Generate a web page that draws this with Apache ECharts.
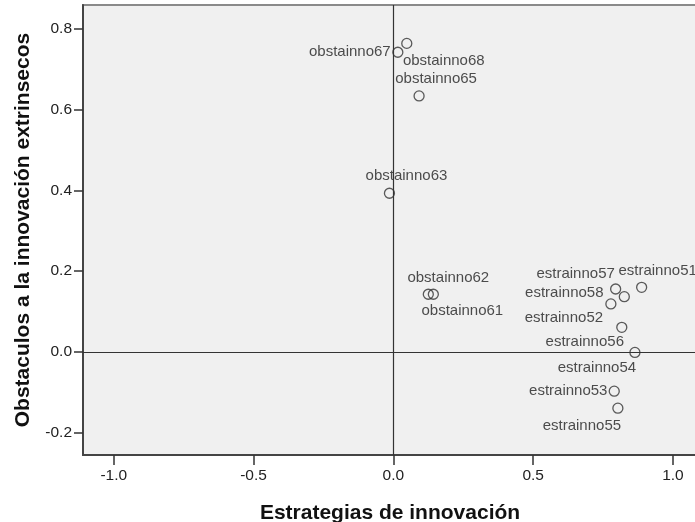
<!DOCTYPE html>
<html>
<head>
<meta charset="utf-8">
<script src="https://cdn.jsdelivr.net/npm/echarts@6/dist/echarts.min.js"></script>
<style>
  html, body { margin: 0; padding: 0; background: #ffffff; }
  #chart { width: 695px; height: 522px; }
</style>
</head>
<body>
<div id="chart"></div>
<script>
// Item names and their coordinates on the two components
const pointNames = [
  'obstainno68', 'obstainno67', 'obstainno65', 'obstainno63',
  'obstainno62', 'obstainno61',
  'estrainno51', 'estrainno57', 'estrainno58', 'estrainno52',
  'estrainno56', 'estrainno54', 'estrainno53', 'estrainno55'
];
const xValues = [
  0.048, 0.016, 0.092, -0.014,
  0.125, 0.143,
  0.888, 0.795, 0.826, 0.778,
  0.817, 0.864, 0.790, 0.803
];
const yValues = [
  0.764, 0.742, 0.634, 0.393,
  0.143, 0.143,
  0.160, 0.156, 0.137, 0.119,
  0.061, -0.001, -0.097, -0.139
];
const xTickValues = [-1.0, -0.5, 0.0, 0.5, 1.0];
const yTickValues = [-0.2, 0.0, 0.2, 0.4, 0.6, 0.8];

const xTitle = 'Estrategias de innovación';
const yTitle = 'Obstaculos a la innovación extrinsecos';

// Where each name sits relative to its marker (text centre offset, px)
const labelOffsets = {
  obstainno68: [37, 17],
  obstainno67: [-48, 0],
  obstainno65: [17, -17],
  obstainno63: [17, -17],
  obstainno62: [20, -16],
  obstainno61: [29, 17],
  estrainno51: [16, -17],
  estrainno57: [-40, -15],
  estrainno58: [-60, -4],
  estrainno52: [-47, 14],
  estrainno56: [-37, 15],
  estrainno54: [-38, 15],
  estrainno53: [-46, 0],
  estrainno55: [-36, 18]
};

const FONT = 'Liberation Sans, Arial, sans-serif';

const points = pointNames.map((name, i) => ({
  name: name,
  value: [xValues[i], yValues[i]],
  label: {
    show: true,
    formatter: name,
    position: 'inside',
    align: 'center',
    verticalAlign: 'middle',
    offset: labelOffsets[name],
    fontFamily: FONT,
    fontSize: 15,
    color: '#222'
  }
}));

const fmt = v => v.toFixed(1);

const chart = echarts.init(document.getElementById('chart'), null, { renderer: 'canvas' });
chart.setOption({
  animation: false,
  backgroundColor: '#ffffff',
  grid: {
    left: 83, right: -2, top: 5, bottom: 67,
    containLabel: false,
    outerBoundsMode: 'none',
    show: true,
    backgroundColor: '#F0F0F0',
    borderColor: '#8a8a8a',
    borderWidth: 2
  },
  xAxis: {
    type: 'value',
    min: -1.11, max: 1.086,
    name: xTitle,
    nameLocation: 'middle',
    nameGap: 48,
    nameTextStyle: { fontFamily: FONT, fontSize: 21, fontWeight: 'bold', color: '#111' },
    axisLine: { show: true, onZero: false, lineStyle: { color: '#444', width: 2 } },
    axisTick: { show: true, customValues: xTickValues, length: 10, lineStyle: { color: '#333', width: 1.5 } },
    axisLabel: { customValues: xTickValues, formatter: fmt, margin: 13, fontFamily: FONT, fontSize: 15.5, color: '#222' },
    splitLine: { show: false }
  },
  yAxis: {
    type: 'value',
    min: -0.255, max: 0.859,
    name: yTitle,
    nameLocation: 'middle',
    nameGap: 49,
    nameRotate: 90,
    nameTextStyle: { fontFamily: FONT, fontSize: 21, fontWeight: 'bold', color: '#111' },
    axisLine: { show: true, onZero: false, lineStyle: { color: '#444', width: 2 } },
    axisTick: { show: true, customValues: yTickValues, length: 9, lineStyle: { color: '#333', width: 1.5 } },
    axisLabel: { customValues: yTickValues, formatter: fmt, margin: 11, fontFamily: FONT, fontSize: 15.5, color: '#222' },
    splitLine: { show: false }
  },
  series: [{
    type: 'scatter',
    data: points,
    symbol: 'circle',
    symbolSize: 10,
    itemStyle: { color: 'rgba(0,0,0,0)', borderColor: '#333', borderWidth: 1.3 },
    emphasis: { disabled: true },
    markLine: {
      silent: true,
      symbol: 'none',
      label: { show: false },
      lineStyle: { color: '#333', width: 1.2, type: 'solid' },
      data: [{ xAxis: 0 }, { yAxis: 0 }]
    },
    z: 3
  }]
});
</script>
</body>
</html>
